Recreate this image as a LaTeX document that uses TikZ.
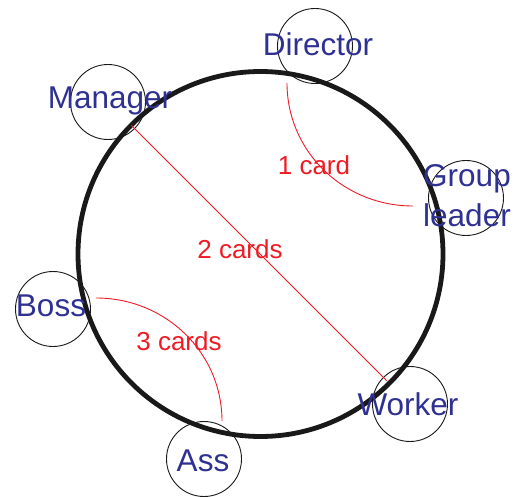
\documentclass[tikz,border=0pt]{standalone}
\usepackage{fontspec}
\setmainfont{Liberation Sans}
\definecolor{roleblue}{RGB}{46,49,146}
\definecolor{cardred}{RGB}{237,28,36}
\tikzset{
  ring/.style={draw=black!90, line width=4.8pt},
  rolecircle/.style={circle, draw=black!90, line width=0.9pt, minimum size=75pt, inner sep=0pt},
  rolelabel/.style={text=roleblue, font=\fontsize{31.5}{40}\selectfont, inner sep=0pt, align=center},
  cardline/.style={draw=cardred, line width=0.9pt},
  cardlabel/.style={text=cardred, font=\fontsize{26}{30}\selectfont, inner sep=0pt}
}
\begin{document}
\begin{tikzpicture}[x=1pt,y=-1pt]
\useasboundingbox (0,0) rectangle (520,497);
% big ring
\node[circle, ring, minimum size=365pt, inner sep=0pt] (ring) at (260.5,254) {};
% role circles
\node[rolecircle] (dirC) at (315,46) {};
\node[rolecircle] (manC) at (108,102) {};
\node[rolecircle] (grpC) at (466,198) {};
\node[rolecircle] (bosC) at (53,309) {};
\node[rolecircle] (wrkC) at (410,404) {};
\node[rolecircle] (assC) at (204,459) {};
% connectors
\coordinate (a1s) at (287,83);
\coordinate (a1e) at (413,206);
\coordinate (a3s) at (96,298);
\coordinate (a3e) at (222,421);
\draw[cardline] (a1s) .. controls (287,151) and (343,206) .. (a1e);
\draw[cardline] (a3s) .. controls (166,298) and (222,353) .. (a3e);
\draw[cardline, shorten <=33pt, shorten >=33pt] (manC.center) -- (wrkC.center);
% card labels
\node[cardlabel] (c1) at (314,165) {1 card};
\node[cardlabel] (c2) at (240,249) {2 cards};
\node[cardlabel] (c3) at (179,341) {3 cards};
% role labels
\node[rolelabel] (dir) at (318,44) {Director};
\node[rolelabel] (man) at (110,101) {Manager};
\node[rolelabel] (grp) at (467,196) {Group\\leader};
\node[rolelabel] (bos) at (51,306) {Boss};
\node[rolelabel] (wrk) at (408,404) {Worker};
\node[rolelabel] (ass) at (203,461) {Ass};
\end{tikzpicture}
\end{document}
